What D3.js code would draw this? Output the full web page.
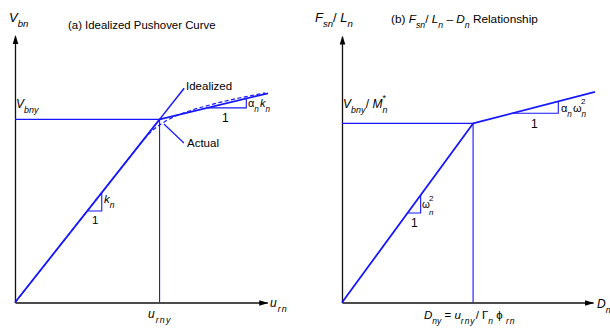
<!DOCTYPE html>
<html><head><meta charset="utf-8">
<script src="https://cdn.jsdelivr.net/npm/d3@7"></script>
<style>
html,body{margin:0;padding:0;background:#fff;}
svg{display:block;font-family:"Liberation Sans",Arial,Helvetica,sans-serif;}
</style></head><body>
<svg id="chart" width="610" height="329"></svg>
<script>
// (a) Pushover curve, normalized: roof displacement u_rn / u_rny, base shear V_bn / V_bny
const alphaN = 0.19;                       // post-yield stiffness ratio
const idealizedU = [0, 1.0, 1.75];
const idealizedV = [0, 1.0, 1.1425];
const elasticExtU = [1.0, 1.17];            // elastic branch continued past yield
const elasticExtV = [1.0, 1.17];
const actualU = [0, 0.9, 0.95, 1.0, 1.05, 1.12, 1.25, 1.4, 1.55, 1.73];
const actualV = [0, 0.9, 0.94, 0.97, 0.995, 1.022, 1.058, 1.09, 1.117, 1.145];
const yieldA = [1.0, 1.0];                  // [u_rny, V_bny]

// (b) F_sn/L_n – D_n relation, normalized by D_ny and V_bny/M_n*
const bilinearD = [0, 1.0, 1.93];
const bilinearF = [0, 1.0, 1.1767];
const yieldB = [1.0, 1.0];                  // [D_ny, V_bny/M_n*]

// slope markers: run start / end along the horizontal axis
const elasticSlope = [0.5, 0.6];
const postYieldSlopeA = [1.33, 1.60];
const postYieldSlopeB = [1.30, 1.65];

const BLUE = "#1717ff";
const svg = d3.select("#chart");

const xA = d3.scaleLinear().domain([0, 1.75]).range([15, 268]);
const yA = d3.scaleLinear().domain([0, 1.45]).range([302.5, 37]);
const xB = d3.scaleLinear().domain([0, 1.93]).range([342, 595]);
const yB = d3.scaleLinear().domain([0, 1.48]).range([302.5, 37.5]);

const zip = (xs, ys) => xs.map((x, i) => [x, ys[i]]);

function rich(x, y, size, parts) {
  const t = svg.append("text").attr("x", x).attr("y", y)
    .attr("font-size", size).attr("fill", "#000");
  let shift = 0;
  parts.forEach(p => {
    const s = t.append("tspan").text(p.t);
    const target = p.sub ? size * 0.42 : p.sup ? -size * 0.45 : 0;
    s.attr("dy", target - shift);
    shift = target;
    if (p.sub || p.sup) s.attr("font-size", size * 0.74);
    if (p.it) s.attr("font-style", "italic");
    if (p.dx) s.attr("dx", p.dx);
    if (p.ls) s.attr("letter-spacing", p.ls);
  });
  return t;
}

function drawPanel(x, y, xEnd, yEnd) {
  const g = svg.append("g");
  const xAxisScale = x.copy().domain([0, xEnd]).range([x(0), x(xEnd)]);
  const yAxisScale = y.copy().domain([0, yEnd]).range([y(0), y(yEnd)]);
  const ax = g.append("g").attr("transform", `translate(0,${y(0)})`)
    .call(d3.axisBottom(xAxisScale).tickValues([]).tickSizeOuter(0));
  const ay = g.append("g").attr("transform", `translate(${x(0)},0)`)
    .call(d3.axisLeft(yAxisScale).tickValues([]).tickSizeOuter(0));
  [ax, ay].forEach(a => a.select(".domain").attr("stroke", "#111").attr("stroke-width", 1.3));
  // arrowheads
  const tx = x(xEnd) + 1, ty = y(0) + 0.5;
  g.append("path").attr("d", `M${tx},${ty}L${tx - 9},${ty - 2.8}L${tx - 9},${ty + 2.8}Z`).attr("fill", "#000");
  const ux = x(0) + 0.5, uy = y(yEnd) - 1;
  g.append("path").attr("d", `M${ux},${uy}L${ux - 2.8},${uy + 9}L${ux + 2.8},${uy + 9}Z`).attr("fill", "#000");
  return g;
}

function line(g, pts, x, y, w, dash) {
  const p = g.append("path")
    .attr("d", d3.line().x(d => x(d[0])).y(d => y(d[1]))(pts))
    .attr("fill", "none").attr("stroke", BLUE).attr("stroke-width", w)
    .attr("stroke-linejoin", "round");
  if (dash) p.attr("stroke-dasharray", dash);
  return p;
}

function slopeMarker(g, run, slope, x0, y0, x, y) {
  // right triangle under a branch of slope `slope` passing through (x0, y0)
  const f = u => y0 + slope * (u - x0);
  line(g, [[run[0], f(run[0])], [run[1], f(run[0])], [run[1], f(run[1])]], x, y, 1.1);
}

// ---------- panel (a) ----------
const gA = drawPanel(xA, yA, 1.745, 1.455);
line(gA, [[0, yieldA[1]], yieldA], xA, yA, 1.2);
line(gA, [yieldA, [yieldA[0], 0]], xA, yA, 1.1);
line(gA, zip(actualU, actualV), xA, yA, 1.2, "4,2.5");
line(gA, zip(idealizedU, idealizedV), xA, yA, 1.8);
line(gA, zip(elasticExtU, elasticExtV), xA, yA, 1.5);
slopeMarker(gA, elasticSlope, 1, 0, 0, xA, yA);
slopeMarker(gA, postYieldSlopeA, alphaN, yieldA[0], yieldA[1], xA, yA);
// pointer to the actual curve
const pa = [xA(1.03), yA(0.975)];
gA.append("path").attr("d", `M${pa[0]},${pa[1]}L${pa[0] + 20},${pa[1] + 19}`)
  .attr("stroke", BLUE).attr("stroke-width", 1.2);

rich(9, 22, 13, [{t: "V", it: 1}, {t: "bn", it: 1, sub: 1}]);
rich(68, 29, 11.4, [{t: "(a) Idealized Pushover Curve"}]);
rich(16, 108, 12, [{t: "V", it: 1}, {t: "bny", it: 1, sub: 1}]);
rich(186, 90, 11.5, [{t: "Idealized"}]);
rich(187, 147, 11.5, [{t: "Actual"}]);
rich(270, 307, 12, [{t: "u", it: 1}, {t: "rn", it: 1, sub: 1, ls: 1.2, dx: 1}]);
rich(148, 318, 12, [{t: "u", it: 1}, {t: "rny", it: 1, sub: 1, ls: 1.2, dx: 1}]);
rich(104, 203, 11.5, [{t: "k", it: 1}, {t: "n", it: 1, sub: 1}]);
rich(92, 224, 11.5, [{t: "1"}]);
rich(248, 107, 11, [{t: "α"}, {t: "n", it: 1, sub: 1}, {t: "k", it: 1, dx: 1}, {t: "n", it: 1, sub: 1}]);
rich(222, 122, 12, [{t: "1"}]);

// ---------- panel (b) ----------
const gB = drawPanel(xB, yB, 1.915, 1.485);
line(gB, [[0, yieldB[1]], yieldB], xB, yB, 1.2);
line(gB, [yieldB, [yieldB[0], 0]], xB, yB, 1.1);
line(gB, zip(bilinearD, bilinearF), xB, yB, 1.8);
slopeMarker(gB, elasticSlope, 1, 0, 0, xB, yB);
slopeMarker(gB, postYieldSlopeB, alphaN, yieldB[0], yieldB[1], xB, yB);

rich(315, 22, 13, [{t: "F", it: 1}, {t: "sn", it: 1, sub: 1}, {t: "/ "}, {t: "L", it: 1}, {t: "n", it: 1, sub: 1}]);
rich(391, 23, 11.8, [{t: "(b) "}, {t: "F", it: 1}, {t: "sn", it: 1, sub: 1}, {t: "/ "}, {t: "L", it: 1},
  {t: "n", it: 1, sub: 1}, {t: " – "}, {t: "D", it: 1}, {t: "n", it: 1, sub: 1}, {t: " Relationship"}]);
const vm = rich(343, 108, 12, [{t: "V", it: 1}, {t: "bny", it: 1, sub: 1}, {t: "/ ", dx: 0.5}, {t: "M", it: 1}, {t: "n", it: 1, sub: 1}]);
const vmBox = vm.node().getBBox();
rich(vmBox.x + vmBox.width - 5, 101, 9, [{t: "*"}]);
rich(422, 208, 10, [{t: "ω"}]);
rich(429, 201, 8, [{t: "2"}]);
rich(429, 215, 8, [{t: "n", it: 1}]);
rich(411, 227, 12, [{t: "1"}]);
rich(561, 112, 11, [{t: "α"}, {t: "n", it: 1, sub: 1}, {t: "ω", dx: 1}, {t: "n", it: 1, sub: 1}]);
rich(581, 104, 8, [{t: "2"}]);
rich(531, 128, 12, [{t: "1"}]);
rich(424, 319, 11.5, [{t: "D", it: 1}, {t: "ny", it: 1, sub: 1}, {t: " = "}, {t: "u", it: 1},
  {t: "rny", it: 1, sub: 1, ls: 1}, {t: "/ "}, {t: "Γ"}, {t: "n", it: 1, sub: 1}, {t: " ϕ "}, {t: "rn", it: 1, sub: 1, ls: 1}]);
rich(597, 308, 12, [{t: "D", it: 1}, {t: "n", it: 1, sub: 1}]);
</script>
</body></html>
